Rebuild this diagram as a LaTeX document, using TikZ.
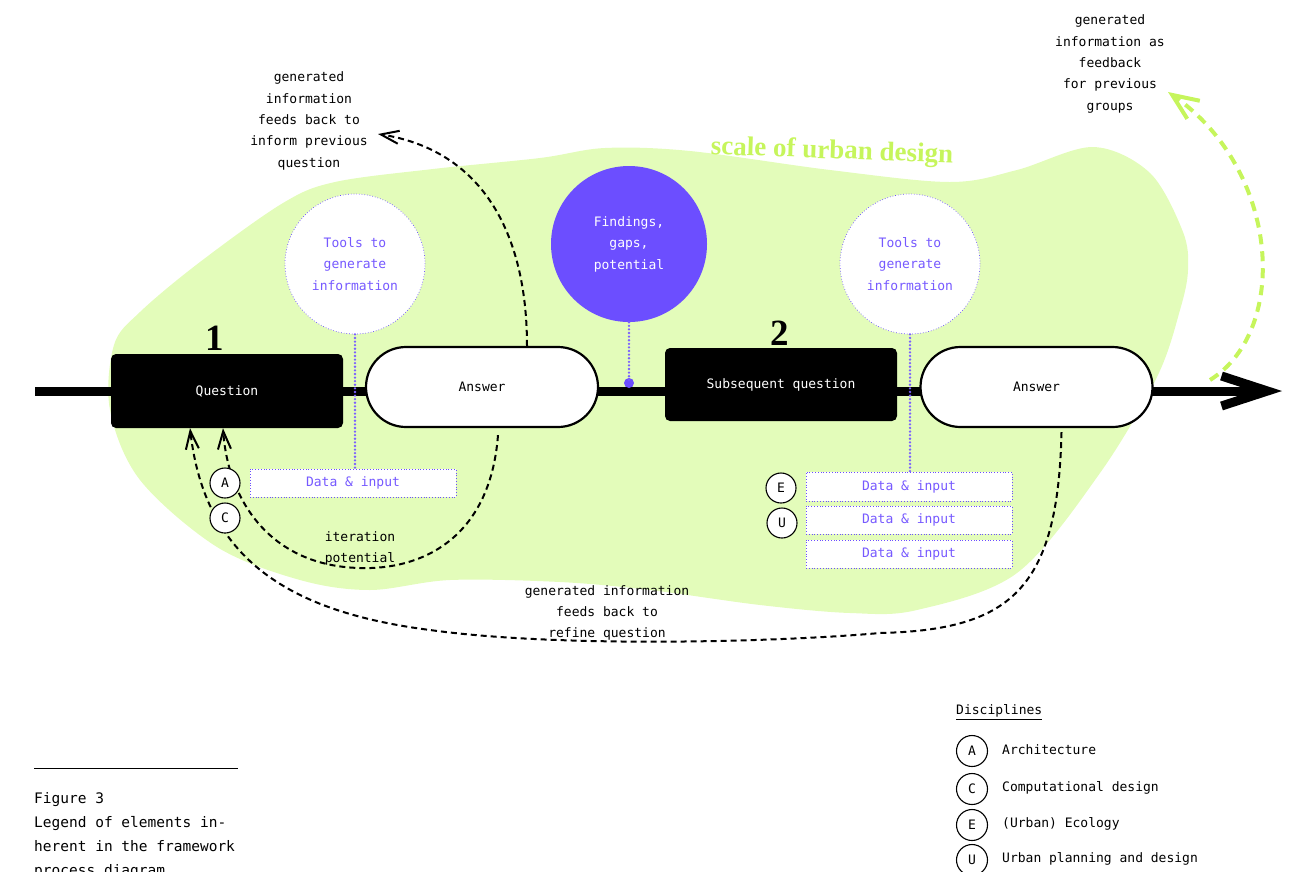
\documentclass[tikz,border=0pt]{standalone}
\usepackage{fontspec}
\setmonofont{DejaVu Sans Mono}
\newfontfamily\headserif{Liberation Serif}
\usetikzlibrary{arrows.meta}

\definecolor{blobgreen}{HTML}{E3FCBA}
\definecolor{limeaccent}{HTML}{C6F55C}
\definecolor{violetfill}{HTML}{6C4EFF}
\definecolor{violettext}{HTML}{7659FF}
\definecolor{violetline}{HTML}{7A5FFF}

\tikzset{
  lbl/.style={font=\ttfamily\fontsize{13}{21.3}\selectfont, align=center, inner sep=0pt},
  qbox/.style={fill=black, rounded corners=5pt, minimum width=232pt, text=white,
    font=\ttfamily\fontsize{13}{15}\selectfont},
  abox/.style={draw=black, line width=2.2pt, fill=white, rounded corners=40pt,
    minimum width=232pt, minimum height=80pt, font=\ttfamily\fontsize{13}{15}\selectfont},
  toolc/.style={circle, draw=violetfill, dotted, line width=0.7pt, fill=white,
    minimum size=140pt, inner sep=0pt, text=violettext, align=center,
    font=\ttfamily\fontsize{13}{21.5}\selectfont},
  findc/.style={circle, fill=violetfill, minimum size=156pt, inner sep=0pt, text=white,
    align=center, font=\ttfamily\fontsize{13}{21.5}\selectfont},
  databox/.style={draw=violetfill, dotted, line width=0.8pt, fill=white,
    minimum width=206pt, minimum height=28pt, text=violettext,
    font=\ttfamily\fontsize{13}{15}\selectfont},
  disc/.style={circle, draw=black, line width=1.1pt, fill=white, minimum size=30pt,
    inner sep=0pt, font=\ttfamily\fontsize{13}{15}\selectfont},
  pdot/.style={draw=violetline, line width=2.6pt, line cap=round, dash pattern=on 0pt off 3.6pt},
  fback/.style={draw=black, line width=2pt, dash pattern=on 6pt off 4pt,
    -{Straight Barb[length=18pt,width=13pt,line width=2pt]}},
  gback/.style={draw=limeaccent, line width=4pt, dash pattern=on 10pt off 7pt,
    -{Straight Barb[length=26pt,width=22pt,line width=4pt]}},
  mainline/.style={draw=black, line width=9pt,
    -{Straight Barb[length=46pt,width=30pt,line width=9pt]}},
  num/.style={font=\headserif\bfseries\fontsize{37}{40}\selectfont, inner sep=0pt},
  heading/.style={font=\headserif\bfseries\fontsize{27}{30}\selectfont, text=limeaccent, inner sep=0pt},
}

\begin{document}
\begin{tikzpicture}[x=1pt,y=-1pt]
\useasboundingbox (0,0) rectangle (1296,871);

% scale of urban design area
\fill[blobgreen] plot[smooth cycle, tension=0.55] coordinates {
  (110,410) (114,345) (140,312) (200,262) (283,203) (335,182) (433,169) (540,158)
  (605,148) (690,151) (830,170) (950,182) (1017,170) (1093,147) (1150,173)
  (1183,232) (1188,270) (1180,310) (1157,377) (1100,473) (1017,573) (917,610)
  (850,613) (760,605) (650,590) (560,582) (450,580) (370,590) (300,580)
  (217,547) (140,480)};
\node[heading, rotate=-2] (scale) at (832,152) {scale of urban design};

% main process line
\coordinate (lstart) at (35,391);
\coordinate (lend) at (1282,391);
\draw[mainline] (lstart) -- (lend);

% process nodes
\node[qbox, minimum height=74pt] (q1) at (227,391) {Question};
\node[abox] (a1) at (482,387) {Answer};
\node[qbox, minimum height=73pt] (q2) at (781,384.5) {Subsequent question};
\node[abox] (a2) at (1036.5,387) {Answer};
\node[num] (n1) at (215,338) {1};
\node[num] (n2) at (780,333) {2};

% tools, findings and inputs
\node[toolc] (t1) at (355,264) {Tools to\\generate\\information};
\node[toolc] (t2) at (910,264) {Tools to\\generate\\information};
\node[findc] (f) at (629,244) {Findings,\\gaps,\\potential};
\node[circle, fill=violetfill, minimum size=10pt, inner sep=0pt] (fdot) at (629,383) {};

\node[databox] (d1) at (353,483) {Data \& input};
\node[databox, minimum height=29pt] (d2) at (909,486.5) {Data \& input};
\node[databox] (d3) at (909,520) {Data \& input};
\node[databox] (d4) at (909,554) {Data \& input};

\draw[pdot] (t1.south) -- (t1.south |- d1.north);
\draw[pdot] (t2.south) -- (t2.south |- d2.north);
\draw[pdot] (f.south) -- (fdot.center);

% feedback loops
\coordinate (tipup) at (378,134);
\coordinate (gstart) at (1210,380);
\coordinate (gtip) at (1168,92);
\draw[fback] ([xshift=45pt]a1.north) .. controls (527,230) and (480,150) .. (tipup);
\draw[fback] ([xshift=16pt,yshift=-7pt]a1.south)
  .. controls (490,540) and (420,570) .. (360,568)
  .. controls (270,566) and (228,500) .. ([xshift=-4pt]q1.south);
\draw[fback] ([xshift=25pt,yshift=-4pt]a2.south)
  .. controls (1058,590) and (1010,630) .. (880,633)
  .. controls (780,642) and (560,648) .. (430,630)
  .. controls (290,612) and (205,560) .. ([xshift=-37pt]q1.south);
\draw[gback] (gstart) .. controls (1290,330) and (1280,170) .. (gtip);

% disciplines on the loops
\node[disc] (ca) at (225,483) {A};
\node[disc] (cc) at (225,518) {C};
\node[disc] (ce) at (781,488) {E};
\node[disc] (cu) at (782,523) {U};

% loop labels
\node[lbl] (l1) at (309,121) {generated\\information\\feeds back to\\inform previous\\question};
\node[lbl] (l2) at (1110,64) {generated\\information as\\feedback\\for previous\\groups};
\node[lbl] (l3) at (607,613) {generated information\\feeds back to\\refine question};
\node[lbl] (l4) at (360,548.5) {iteration\\potential};

% caption
\draw[line width=0.8pt] (34,768) -- (238,768);
\node[anchor=north west, align=left, inner sep=0pt,
  font=\ttfamily\fontsize{14.5}{24}\selectfont] (fig) at (34,792)
  {Figure 3\\Legend of elements in-\\herent in the framework\\process diagram};

% legend
\node[lbl, anchor=west] (dtitle) at (956,712) {\underline{Disciplines}};
\node[disc, minimum size=31pt] (la) at (972,751) {A};
\node[disc, minimum size=31pt] (lc) at (972,789) {C};
\node[disc, minimum size=31pt] (le) at (972,825) {E};
\node[disc, minimum size=31pt] (lu) at (972,860) {U};
\node[lbl, anchor=west] (ta) at (1002,750) {Architecture};
\node[lbl, anchor=west] (tc) at (1002,788) {Computational design};
\node[lbl, anchor=west] (te) at (1002,824) {(Urban) Ecology};
\node[lbl, anchor=west] (tu) at (1002,859) {Urban planning and design};
\end{tikzpicture}
\end{document}
